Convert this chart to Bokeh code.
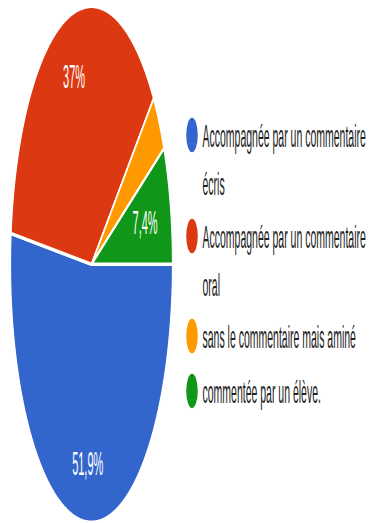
import numpy as np
from bokeh.plotting import figure
from bokeh.models import Range1d
from bokeh.core.properties import value
from bokeh.embed import file_html
from bokeh.resources import INLINE

# ---- data ----
categories = [
    "Accompagnée par un commentaire écris",
    "Accompagnée par un commentaire oral",
    "sans le commentaire mais aminé",
    "commentée par un élève.",
]
legend_lines = [
    ["Accompagnée par un commentaire", "écris"],
    ["Accompagnée par un commentaire", "oral"],
    ["sans le commentaire mais aminé"],
    ["commentée par un élève."],
]
shares = [51.9, 37.0, 3.7, 7.4]
pct_labels = ["51,9%", "37%", "", "7,4%"]
colors = ["#3366CC", "#DC3912", "#FF9900", "#109618"]

# ---- layout (canvas units; the figure is stretched vertically by SY) ----
W, H, SY = 367, 171, 3
FONT = "Liberation Sans"
cx, cy, rx, ry = 91.0, 87.6, 81.0, 86.0
start_deg = 90.0           # clockwise from 12 o'clock
label_r = [0.78, 0.755, 0.5, 0.68]

p = figure(width=W, height=H, x_range=Range1d(0, W), y_range=Range1d(SY * H, 0),
           output_backend="svg", toolbar_location=None, min_border=0,
           x_axis_type=None, y_axis_type=None, outline_line_color=None,
           background_fill_color="white", border_fill_color="white",
           stylesheets=[f":host {{ transform: scaleY({SY}); transform-origin: 0 0; }}"])
p.grid.visible = False

total = sum(shares)
xs, ys, lx, ly, lt = [], [], [], [], []
a0 = start_deg
for s, lab, f in zip(shares, pct_labels, label_r):
    a1 = a0 + 360.0 * s / total
    t = np.radians(np.linspace(a0, a1, max(int(abs(a1 - a0)) * 2, 4)))
    x = np.concatenate([[cx], cx + rx * np.sin(t)])
    y = np.concatenate([[cy], cy - ry * np.cos(t)])
    xs.append(list(x)); ys.append(list(y))
    m = np.radians((a0 + a1) / 2)
    if lab:
        lx.append(cx + f * rx * np.sin(m)); ly.append(cy - f * ry * np.cos(m) - 0.6); lt.append(lab)
    a0 = a1

p.patches(xs=xs, ys=ys, fill_color=colors, line_color="white", line_width=1.2)

p.text(x=lx, y=ly, text=lt, text_color="white", text_font=value(FONT),
       text_font_size="11px", text_align="center", text_baseline="middle")

# legend
dot_x = 191.5
dot_y = [44.5, 78.2, 111.5, 129.8]
text_x = 202.0
line_gap = 16.0
p.scatter(x=[dot_x] * len(colors), y=dot_y, size=11.5, marker="circle",
          fill_color=colors, line_color=None)
tx, ty, tt = [], [], []
for yy, lines in zip(dot_y, legend_lines):
    for i, line in enumerate(lines):
        tx.append(text_x); ty.append(yy + i * line_gap); tt.append(line)
p.text(x=tx, y=ty, text=tt, text_color="#222222", text_font=value(FONT),
       text_font_size="10.5px", text_align="left", text_baseline="middle")

open("out.html", "w").write(file_html(p, INLINE))
